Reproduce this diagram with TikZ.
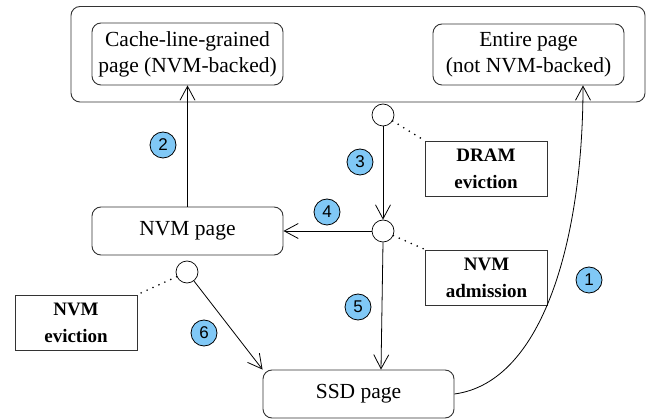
\documentclass[tikz,border=0pt]{standalone}
\usepackage{fontspec}
\setmainfont{Liberation Serif}
\newfontfamily\numfont{Liberation Sans}
\usetikzlibrary{arrows.meta,calc}
\definecolor{lblue}{HTML}{80C8F6}
\definecolor{edge}{HTML}{333333}
\tikzset{
  page/.style={draw=edge,line width=0.9pt,rounded corners=9pt,minimum width=191pt,inner sep=0pt,align=center,font=\fontsize{21.5}{26}\selectfont},
  tagbox/.style={draw=edge,line width=0.9pt,minimum width=122pt,minimum height=55pt,inner sep=0pt,align=center,font=\fontsize{19}{27}\selectfont\bfseries},
  junc/.style={circle,draw=black,line width=0.7pt,fill=white,minimum size=22pt,inner sep=0pt},
  num/.style={circle,draw=black,line width=0.8pt,fill=lblue,minimum size=26pt,inner sep=0pt,font=\numfont\fontsize{17}{17}\selectfont},
  flow/.style={draw=black,line width=0.8pt,-{Straight Barb[length=14pt,width=15pt,line width=0.8pt]}},
  link/.style={draw=black,line width=1.8pt,line cap=round,dash pattern=on 0pt off 6.5pt},
}
\begin{document}
\begin{tikzpicture}[x=1pt,y=-1pt]
\useasboundingbox (0,0) rectangle (647,419);
\node[draw=edge,line width=0.9pt,rounded corners=9pt,minimum width=574pt,minimum height=95.5pt,inner sep=0pt] (outer) at (358,54.25) {};
\node[page,minimum height=62pt] (cache) at (187.5,54) {Cache-line-grained\\page (NVM-backed)};
\node[page,minimum height=61pt] (entire) at (528.5,54.5) {Entire page\\(not NVM-backed)};
\node[page,minimum height=48pt] (nvm) at (187.5,231) {NVM page};
\node[page,minimum height=48pt] (ssd) at (358.5,394) {SSD page};
\node[tagbox] (dram) at (486,168.5) {DRAM\\eviction};
\node[tagbox] (admit) at (486.5,277.5) {NVM\\admission};
\node[tagbox] (evict) at (76,322.5) {NVM\\eviction};
\node[junc] (c1) at (383,115) {};
\node[junc] (c2) at (383,231) {};
\node[junc] (c3) at (187,272) {};
\draw[link] (c1) -- (dram.north west);
\draw[link] (c2) -- (admit.north west);
\draw[link] (c3) -- (evict.north east);
\draw[flow] (nvm.north) -- (cache.south);
\draw[flow] (c1.south) -- (c2.north);
\draw[flow] (c2.west) -- (nvm.east);
\draw[flow] (c2.south) -- ([xshift=22.5pt]ssd.north);
\draw[flow] (c3) -- (ssd.north west);
\coordinate (top1) at ([xshift=54.5pt]entire.south);
\draw[flow] (ssd.east) .. controls +(90,-12) and +(0,150) .. (top1);
\node[num] (n1) at (589,280) {1};
\node[num] (n2) at (163,145) {2};
\node[num] (n3) at (360,162) {3};
\node[num] (n4) at (327,212) {4};
\node[num] (n5) at (358,307) {5};
\node[num] (n6) at (204,333) {6};
\end{tikzpicture}
\end{document}
